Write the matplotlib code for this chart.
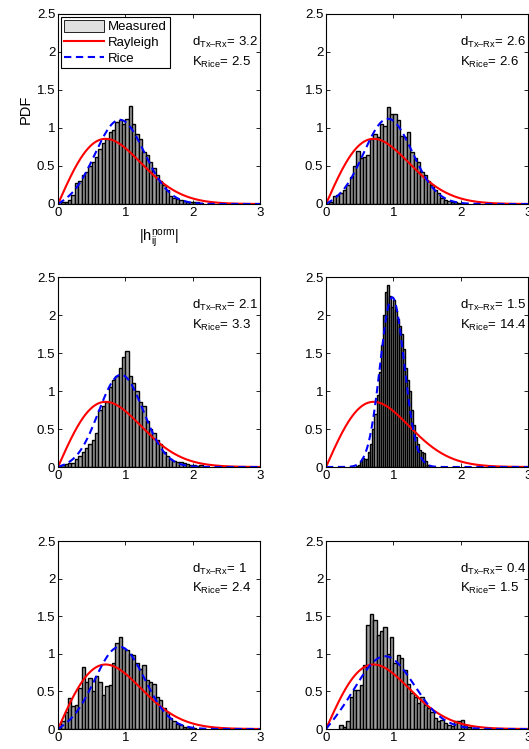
import numpy as np
import matplotlib
matplotlib.use("Agg")
import matplotlib.pyplot as plt

plt.rcParams['font.family'] = ['Liberation Sans', 'DejaVu Sans']
plt.rcParams['mathtext.fontset'] = 'custom'
plt.rcParams['mathtext.rm'] = 'Liberation Sans'
plt.rcParams['mathtext.it'] = 'Liberation Sans'

# distances and fitted Rice K factors per panel
d_txrx = [3.2, 2.6, 2.1, 1.5, 1, 0.4]
k_rice = [2.5, 2.6, 3.3, 14.4, 2.4, 1.5]

# histogram bins: first left edge and width, then bar heights
bin_start = [0.0, 0.0, 0.0, 0.45, 0.0, 0.2]
bin_width = [0.05, 0.05, 0.05, 0.03, 0.05, 0.05]

h1 = [0.0, 0.02, 0.03, 0.05, 0.12, 0.28, 0.30, 0.38, 0.42, 0.50, 0.55, 0.62, 0.72,
      0.80, 0.86, 0.95, 0.98, 1.08, 1.10, 1.05, 1.12, 1.29, 1.05, 0.92, 0.85, 0.68,
      0.65, 0.55, 0.48, 0.38, 0.30, 0.25, 0.18, 0.10, 0.08, 0.07, 0.05, 0.04, 0.03,
      0.03, 0.02, 0.02, 0.01]
h2 = [0.0, 0.03, 0.10, 0.12, 0.15, 0.18, 0.25, 0.35, 0.50, 0.70, 0.60, 0.62, 0.65,
      0.85, 0.92, 0.88, 1.05, 1.03, 1.27, 1.18, 1.18, 1.10, 0.90, 0.88, 0.95, 0.68,
      0.60, 0.55, 0.42, 0.38, 0.30, 0.25, 0.18, 0.15, 0.08, 0.05, 0.04, 0.03, 0.02,
      0.01, 0.01]
h3 = [0.0, 0.03, 0.04, 0.05, 0.05, 0.10, 0.15, 0.20, 0.25, 0.30, 0.35, 0.45, 0.75,
      0.80, 0.85, 1.05, 1.15, 1.20, 1.30, 1.45, 1.53, 1.20, 1.10, 1.00, 0.85, 0.80,
      0.60, 0.50, 0.45, 0.35, 0.30, 0.20, 0.15, 0.10, 0.08, 0.07, 0.06, 0.05, 0.04,
      0.03, 0.02, 0.01, 0.02]
h4 = [0.01, 0.03, 0.08, 0.12, 0.10, 0.10, 0.20, 0.30, 0.50, 0.70, 0.95, 1.25, 1.60,
      2.00, 2.30, 2.40, 2.25, 2.10, 2.20, 2.05, 1.95, 1.85, 1.75, 1.55, 1.30, 1.15,
      1.00, 0.75, 0.55, 0.40, 0.30, 0.22, 0.20, 0.18, 0.08, 0.03, 0.01]
h5 = [0.03, 0.10, 0.22, 0.41, 0.30, 0.32, 0.55, 0.82, 0.62, 0.68, 0.50, 0.70, 0.62,
      0.45, 0.57, 0.58, 0.88, 1.15, 1.22, 1.08, 1.05, 1.00, 0.98, 0.88, 0.80, 0.85,
      0.65, 0.62, 0.60, 0.42, 0.38, 0.28, 0.22, 0.15, 0.10, 0.06, 0.05, 0.03, 0.02,
      0.01, 0.01]
h6 = [0.05, 0.03, 0.10, 0.42, 0.52, 0.52, 0.58, 0.85, 1.38, 1.53, 1.45, 1.25, 1.30,
      1.35, 1.00, 1.22, 0.88, 0.98, 0.95, 0.78, 0.60, 0.48, 0.42, 0.35, 0.42, 0.32,
      0.28, 0.22, 0.15, 0.10, 0.12, 0.08, 0.05, 0.04, 0.10, 0.10, 0.12, 0.05, 0.02]
heights = [h1, h2, h3, h4, h5, h6]


def rayleigh_pdf(r):
    return 2 * r * np.exp(-r ** 2)


def rice_pdf(r, K):
    return 2 * (K + 1) * r * np.exp(-K - (K + 1) * r ** 2) * np.i0(2 * r * np.sqrt(K * (K + 1)))


r = np.linspace(0, 3, 400)

fig = plt.figure(figsize=(5.29, 7.49), dpi=100)
W, H = 529.0, 749.0
lefts = [58, 326]
rows = [(14, 204), (277, 467), (541, 729)]

for i in range(6):
    row, col = divmod(i, 2)
    top, bot = rows[row]
    ax = fig.add_axes([lefts[col] / W, 1 - bot / H, 202 / W, (bot - top) / H])

    h = heights[i]
    edges = bin_start[i] + bin_width[i] * np.arange(len(h))
    ax.bar(edges, h, width=bin_width[i], align='edge', facecolor='0.62',
           edgecolor='black', linewidth=1.0)
    l_ray, = ax.plot(r, rayleigh_pdf(r), color='red', lw=1.5)
    l_rice, = ax.plot(r, rice_pdf(r, k_rice[i]), color='blue', lw=1.5, ls=(0, (3.5, 2.2)))

    ax.set_xlim(0, 3)
    ax.set_ylim(0, 2.5)
    ax.set_xticks([0, 1, 2, 3])
    ax.set_yticks([0, 0.5, 1, 1.5, 2, 2.5])
    ax.set_yticklabels(['0', '0.5', '1', '1.5', '2', '2.5'])
    ax.tick_params(direction='in', top=True, right=True, length=3, width=0.6,
                   labelsize=9.5, pad=2)
    for s in ax.spines.values():
        s.set_linewidth(0.8)

    ax.text(0.665, 0.85, r'$\mathregular{d_{\text{Tx–Rx}}}$= ' + str(d_txrx[i]),
            transform=ax.transAxes, fontsize=9.5, va='center')
    ax.text(0.665, 0.745, r'$\mathregular{K_{Rice}}$= ' + str(k_rice[i]),
            transform=ax.transAxes, fontsize=9.5, va='center')

    if i == 0:
        ax.set_ylabel('PDF', fontsize=10.5, labelpad=3)
        ax.set_xlabel(r'$\mathregular{|h_{ij}^{norm}|}$', fontsize=10.5, labelpad=6)
        patch = plt.Rectangle((0, 0), 1, 1, facecolor='0.88', edgecolor='black', linewidth=0.6)
        leg = ax.legend([patch, l_ray, l_rice], ['Measured', 'Rayleigh', 'Rice'],
                        loc='upper left', bbox_to_anchor=(0.0, 1.0), fontsize=9.5,
                        fancybox=False, framealpha=1, edgecolor='black',
                        handlelength=3.0, handleheight=1.0, borderaxespad=0.25,
                        borderpad=0.2, labelspacing=0.2, handletextpad=0.35)
        leg.get_frame().set_linewidth(0.8)

fig.savefig('out.png', dpi=100)
